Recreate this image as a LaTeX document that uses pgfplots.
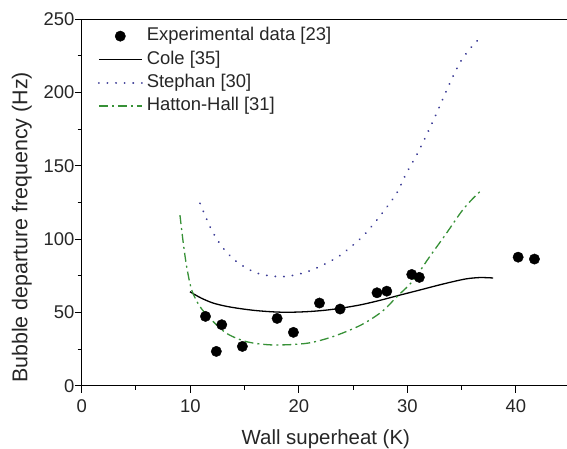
\documentclass[border=0pt]{standalone}
\usepackage{pgfplots}
\pgfplotsset{compat=1.18}
\usepackage{fontspec}
\setmainfont{Liberation Sans}

\definecolor{stephanblue}{RGB}{60,60,150}
\definecolor{hattongreen}{RGB}{55,145,55}

% Measured bubble departure frequencies
\pgfplotstableread{
x     y
11.4  47.3
12.4  23.4
12.9  41.6
14.8  26.8
18.0  45.9
19.5  36.4
21.9  56.4
23.8  52.3
27.2  63.4
28.1  64.5
30.4  75.9
31.1  73.9
40.2  87.7
41.7  86.4
}\expdata

% Cole correlation
\pgfplotstableread{
x     y
9.97  64.1
11.0  59.8
12.1  56.4
13.3  54.2
14.6  52.6
16.0  51.3
17.6  50.4
19.0  50.1
20.7  50.5
22.3  51.4
23.8  52.8
25.7  55.2
27.5  58.3
29.3  61.8
31.15 65.3
32.7  68.3
34.2  71.0
35.5  73.0
36.7  73.8
37.9  73.5
}\cole

% Stephan correlation
\pgfplotstableread{
x     y
10.9  124.4
11.97 106.2
13.04 93.7
14.27 84.6
15.8  77.8
17.0  75.3
18.3  74.4
19.5  75.3
20.7  77.6
21.9  81.2
23.0  85.3
24.1  90.5
25.9  102.0
27.5  116.0
29.0  131.2
29.9  144.9
31.0  159.5
32.4  181.2
33.9  206.3
34.8  219.9
35.5  227.5
36.2  233.6
36.9  238.5
}\stephan

% Hatton-Hall correlation
\pgfplotstableread{
x     y
9.05  116.4
9.36  97.1
9.67  81.2
10.13 65.3
10.9  53.9
11.97 44.8
13.35 35.7
15.2  30.0
17.6  27.8
20.7  28.9
23.1  33.4
25.7  41.3
27.7  50.8
29.0  60.5
30.5  71.5
32.0  87.5
33.5  103.0
35.0  119.0
36.0  127.5
36.9  134.0
}\hatton

\begin{document}
\begin{tikzpicture}
\begin{axis}[
  name=ax,
  scale only axis,
  width=485.3bp, height=366.4bp,
  xmin=0, xmax=44.7, ymin=0, ymax=250,
  axis x line*=bottom, axis y line*=left,
  axis line style={line width=1.1bp, -},
  xtick={0,10,20,30,40}, ytick={0,50,...,250},
  minor xtick={5,15,25,35}, minor ytick={25,75,...,225},
  tick align=outside,
  major tick length=7bp, minor tick length=4bp,
  tick style={line width=1bp, black},
  /pgf/number format/assume math mode=true,
  ticklabel style={font=\fontsize{18.5}{20}\selectfont, text=black!85},
  xticklabel style={anchor=base, inner sep=0pt, yshift=-20bp},
  yticklabel style={anchor=east, inner sep=0pt},
  xlabel={Wall superheat (K)},
  ylabel={Bubble departure frequency (Hz)},
  xlabel style={at={(rel axis cs:0.503,-0.16)}, anchor=base, inner sep=0pt,
    font=\fontsize{20.5}{22}\selectfont, text=black!85},
  ylabel style={at={(rel axis cs:-0.1442,0.432)}, anchor=north, inner sep=0pt,
    font=\fontsize{21.5}{23}\selectfont, text=black!85},
  legend cell align=left,
  legend style={draw=none, fill=none, inner sep=0pt,
    at={(axis description cs:0,1)}, anchor=north west,
    xshift=15.9bp, yshift=-7.4bp,
    font=\fontsize{18.5}{21}\selectfont, text=black!85,
    row sep=4.8bp, column sep=4bp,
    nodes={inner sep=0pt, text height=14bp, text depth=4.5bp}},
  legend image code/.code={\draw[mark repeat=2, mark phase=2, #1]
    plot coordinates {(0bp,0bp) (21.5bp,0bp) (43bp,0bp)};},
]
\addplot[only marks, mark=*, mark size=5.2bp, black] table {\expdata};
\addlegendentry{Experimental data [23]}
\addplot[black, line width=1.3bp, smooth, no marks] table {\cole};
\addlegendentry{Cole [35]}
\addplot[stephanblue, line width=2bp, smooth, no marks, line cap=round,
  dash pattern=on 0.1bp off 8.5bp] table {\stephan};
\addlegendentry{Stephan [30]}
\addplot[hattongreen, line width=1.3bp, smooth, no marks,
  dash pattern=on 9bp off 4bp on 2bp off 4bp] table {\hatton};
\addlegendentry{Hatton-Hall [31]}
\end{axis}
\draw[line width=1.1bp] (ax.north west) -- (ax.north east);
\pgfresetboundingbox
\path ([xshift=-81.7bp, yshift=-63.3bp]ax.south west)
  rectangle ([yshift=19.3bp]ax.north east);
\end{tikzpicture}
\end{document}
